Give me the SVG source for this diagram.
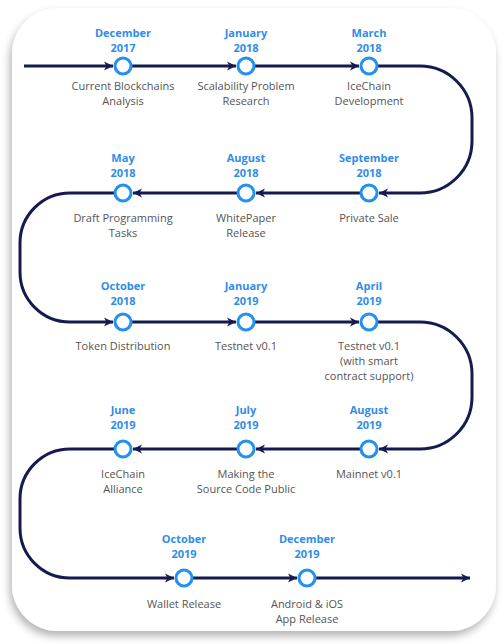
<svg xmlns="http://www.w3.org/2000/svg" width="504" height="644" viewBox="0 0 504 644">
<style>
.date{font-family:"Open Sans","Liberation Sans",sans-serif;font-size:11px;font-weight:bold;fill:#2f8de8;text-anchor:middle}
.desc{font-family:"Open Sans","Liberation Sans",sans-serif;font-size:11px;fill:#555;text-anchor:middle}
.dot{fill:#fff;stroke:#2291f0;stroke-width:3}
.ln{fill:none;stroke:#151a50;stroke-width:3}
</style>
<defs>
<marker id="ah" markerUnits="userSpaceOnUse" markerWidth="10" markerHeight="10" viewBox="0 0 10 10" refX="9" refY="5" orient="auto">
<path d="M0,0.5 L9,5 L0,9.5 L2.5,5 Z" fill="#151a50"/>
</marker>
<filter id="sh" x="-10%" y="-10%" width="120%" height="120%">
<feDropShadow dx="-2" dy="5" stdDeviation="4" flood-color="#000" flood-opacity="0.3"/>
</filter>
</defs>
<rect width="504" height="644" fill="#fff"/>
<rect x="12" y="8" width="484" height="623" rx="46" fill="#fff" filter="url(#sh)"/>
<g id="connectors">
<path class="ln" d="M24,66 H113" marker-end="url(#ah)"/>
<path class="ln" d="M132,66 H236" marker-end="url(#ah)"/>
<path class="ln" d="M255,66 H359" marker-end="url(#ah)"/>
<path class="ln" d="M378,66 H420 A52,52 0 0 1 472,118 V141 A52,52 0 0 1 420,193 H379" marker-end="url(#ah)"/>
<path class="ln" d="M360,193 H256" marker-end="url(#ah)"/>
<path class="ln" d="M237,193 H133" marker-end="url(#ah)"/>
<path class="ln" d="M114,193 H70 A50,50 0 0 0 20,243 V272 A50,50 0 0 0 70,322 H113" marker-end="url(#ah)"/>
<path class="ln" d="M132,322 H236" marker-end="url(#ah)"/>
<path class="ln" d="M255,322 H359" marker-end="url(#ah)"/>
<path class="ln" d="M378,322 H420 A52,52 0 0 1 472,374 V397 A52,52 0 0 1 420,449 H379" marker-end="url(#ah)"/>
<path class="ln" d="M360,449 H256" marker-end="url(#ah)"/>
<path class="ln" d="M237,449 H133" marker-end="url(#ah)"/>
<path class="ln" d="M114,449 H70 A50,50 0 0 0 20,499 V528 A50,50 0 0 0 70,578 H174" marker-end="url(#ah)"/>
<path class="ln" d="M193,578 H297" marker-end="url(#ah)"/>
<path class="ln" d="M316,578 H470" marker-end="url(#ah)"/>
</g>
<g id="n1"><circle class="dot" cx="123" cy="66" r="8"/><text class="date" x="123" y="37">December</text><text class="date" x="123" y="52">2017</text><text class="desc" x="123" y="90">Current Blockchains</text><text class="desc" x="123" y="105">Analysis</text></g>
<g id="n2"><circle class="dot" cx="246" cy="66" r="8"/><text class="date" x="246" y="37">January</text><text class="date" x="246" y="52">2018</text><text class="desc" x="246" y="90">Scalability Problem</text><text class="desc" x="246" y="105">Research</text></g>
<g id="n3"><circle class="dot" cx="369" cy="66" r="8"/><text class="date" x="369" y="37">March</text><text class="date" x="369" y="52">2018</text><text class="desc" x="369" y="90">IceChain</text><text class="desc" x="369" y="105">Development</text></g>
<g id="n4"><circle class="dot" cx="369" cy="193" r="8"/><text class="date" x="369" y="162">September</text><text class="date" x="369" y="177">2018</text><text class="desc" x="369" y="222">Private Sale</text></g>
<g id="n5"><circle class="dot" cx="246" cy="193" r="8"/><text class="date" x="246" y="162">August</text><text class="date" x="246" y="177">2018</text><text class="desc" x="246" y="222">WhitePaper</text><text class="desc" x="246" y="237">Release</text></g>
<g id="n6"><circle class="dot" cx="123" cy="193" r="8"/><text class="date" x="123" y="162">May</text><text class="date" x="123" y="177">2018</text><text class="desc" x="123" y="222">Draft Programming</text><text class="desc" x="123" y="237">Tasks</text></g>
<g id="n7"><circle class="dot" cx="123" cy="322" r="8"/><text class="date" x="123" y="290">October</text><text class="date" x="123" y="305">2018</text><text class="desc" x="123" y="350">Token Distribution</text></g>
<g id="n8"><circle class="dot" cx="246" cy="322" r="8"/><text class="date" x="246" y="290">January</text><text class="date" x="246" y="305">2019</text><text class="desc" x="246" y="350">Testnet v0.1</text></g>
<g id="n9"><circle class="dot" cx="369" cy="322" r="8"/><text class="date" x="369" y="290">April</text><text class="date" x="369" y="305">2019</text><text class="desc" x="369" y="350">Testnet v0.1</text><text class="desc" x="369" y="365">(with smart</text><text class="desc" x="369" y="380">contract support)</text></g>
<g id="n10"><circle class="dot" cx="369" cy="449" r="8"/><text class="date" x="369" y="414">August</text><text class="date" x="369" y="429">2019</text><text class="desc" x="369" y="478">Mainnet v0.1</text></g>
<g id="n11"><circle class="dot" cx="246" cy="449" r="8"/><text class="date" x="246" y="414">July</text><text class="date" x="246" y="429">2019</text><text class="desc" x="246" y="478">Making the</text><text class="desc" x="246" y="493">Source Code Public</text></g>
<g id="n12"><circle class="dot" cx="123" cy="449" r="8"/><text class="date" x="123" y="414">June</text><text class="date" x="123" y="429">2019</text><text class="desc" x="123" y="478">IceChain</text><text class="desc" x="123" y="493">Alliance</text></g>
<g id="n13"><circle class="dot" cx="184" cy="578" r="8"/><text class="date" x="184" y="543">October</text><text class="date" x="184" y="558">2019</text><text class="desc" x="184" y="608">Wallet Release</text></g>
<g id="n14"><circle class="dot" cx="307" cy="578" r="8"/><text class="date" x="307" y="543">December</text><text class="date" x="307" y="558">2019</text><text class="desc" x="307" y="608">Android &amp; iOS</text><text class="desc" x="307" y="623">App Release</text></g>
</svg>
